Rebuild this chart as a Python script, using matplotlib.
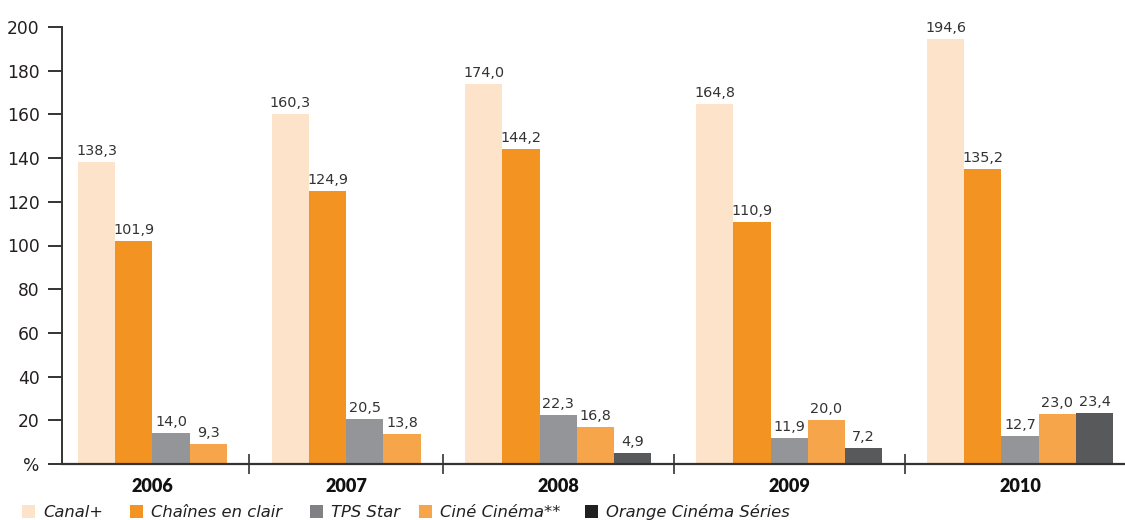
import matplotlib
matplotlib.use('Agg')
import matplotlib.pyplot as plt
from matplotlib.patches import Rectangle

# ---------------- data ----------------
years = ['2006', '2007', '2008', '2009', '2010']
series = ['Canal+', 'Chaînes en clair', 'TPS Star', 'Ciné Cinéma**', 'Orange Cinéma Séries']
canal_plus = [138.3, 160.3, 174.0, 164.8, 194.6]
chaines_clair = [101.9, 124.9, 144.2, 110.9, 135.2]
tps_star = [14.0, 20.5, 22.3, 11.9, 12.7]
cine_cinema = [9.3, 13.8, 16.8, 20.0, 23.0]
orange_cinema = [None, None, 4.9, 7.2, 23.4]
yticks = [0, 20, 40, 60, 80, 100, 120, 140, 160, 180, 200]
ytick_labels = ['%', '20', '40', '60', '80', '100', '120', '140', '160', '180', '200']

all_series = [canal_plus, chaines_clair, tps_star, cine_cinema, orange_cinema]
colors = ['#FDE3C9', '#F39322', '#939598', '#F7A54A', '#58595B']
legend_colors = ['#FDE3C9', '#F39322', '#808184', '#F7A54A', '#231F20']

plt.rcParams['font.family'] = ['DejaVu Sans']

W, H = 1125, 520
fig = plt.figure(figsize=(W / 100, H / 100), dpi=100)
ax = fig.add_axes([62 / W, 1 - 464 / H, (W - 62) / W, (464 - 27) / H])

bar_w = 1.0
gap = 1.2
cursor = 0.0
group_centers = []
group_bounds = []
for gi, yr in enumerate(years):
    start = cursor
    for si, s in enumerate(all_series):
        v = s[gi]
        if v is None:
            continue
        ax.bar(cursor + bar_w / 2, v, width=bar_w, color=colors[si], edgecolor='none', zorder=2)
        ax.text(cursor + bar_w / 2, v + 1.8, f'{v:.1f}'.replace('.', ','),
                ha='center', va='bottom', fontsize=10.4, color='#333333')
        cursor += bar_w
    group_bounds.append((start, cursor))
    group_centers.append((start + cursor) / 2)
    cursor += gap

separators = [(group_bounds[i][1] + group_bounds[i + 1][0]) / 2 for i in range(len(years) - 1)]

ax.set_xlim(-0.43, cursor - gap + 0.32)
ax.set_ylim(0, 200)

ax.set_yticks(yticks)
ax.set_yticklabels(ytick_labels, fontsize=12.3, color='#231F20')
ax.tick_params(axis='y', direction='out', length=10, width=1.4, color='#333333', pad=6)

ax.set_xticks(group_centers)
ax.set_xticklabels(years, fontsize=13, fontweight='heavy', color='#111111', family='Lato')
ax.tick_params(axis='x', which='major', length=0, pad=10)
ax.set_xticks(separators, minor=True)
ax.tick_params(axis='x', which='minor', direction='inout', length=14, width=1.2, color='#333333')

for side in ['top', 'right']:
    ax.spines[side].set_visible(False)
ax.spines['left'].set_color('#333333')
ax.spines['left'].set_linewidth(1.4)
ax.spines['bottom'].set_color('#333333')
ax.spines['bottom'].set_linewidth(1.6)

# legend (manual placement)
marker_x = [22, 130, 310, 419, 585]
for name, col, mx in zip(series, legend_colors, marker_x):
    fig.patches.append(Rectangle((mx / W, 1 - 518 / H), 13 / W, 13 / H,
                                 transform=fig.transFigure, facecolor=col,
                                 edgecolor='none'))
    fig.text((mx + 21) / W, 1 - 517 / H, name, fontsize=11.8, style='italic',
             color='#231F20', ha='left', va='baseline')

fig.savefig('out.png', dpi=100)
